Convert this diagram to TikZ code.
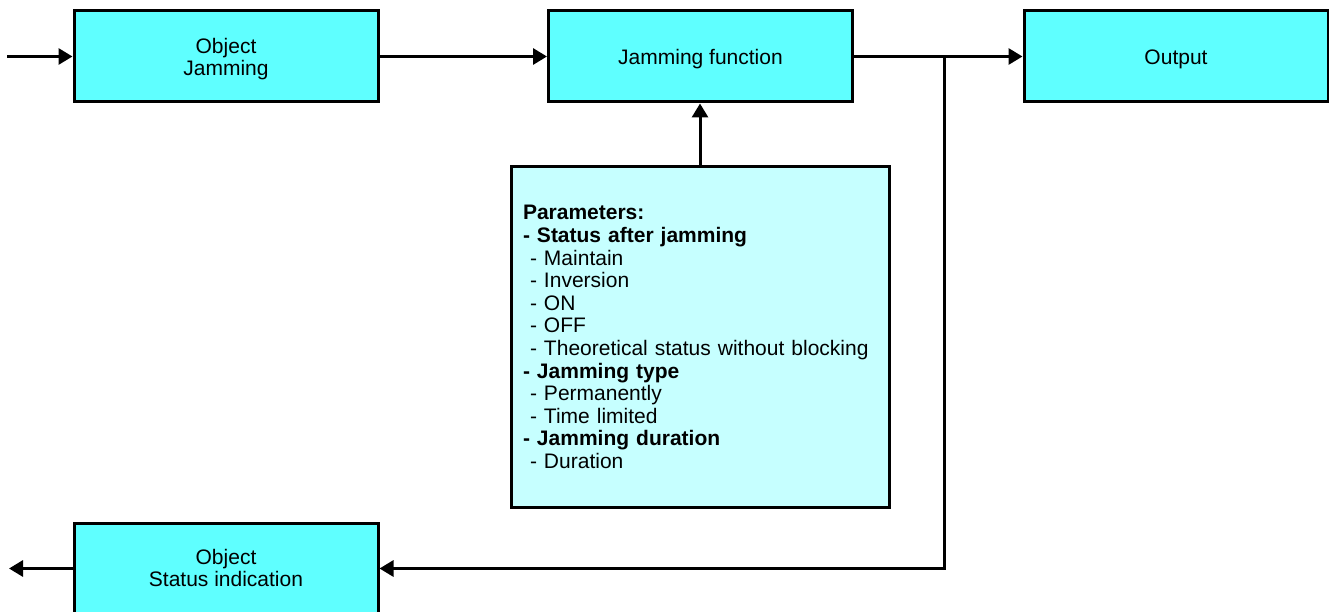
\documentclass[tikz,border=0pt]{standalone}
\usepackage{fontspec}
\setmainfont{Liberation Sans}
\usetikzlibrary{arrows.meta}
\definecolor{boxcyan}{HTML}{5FFFFF}
\definecolor{paramcyan}{HTML}{C6FFFF}
\newcommand{\lowertext}[2]{\raisebox{-#1}[\height][\depth]{#2}}
\begin{document}
\begin{tikzpicture}[x=1pt,y=-1pt,
  blockbox/.style={draw=black,line width=3pt,fill=boxcyan,minimum width=304pt,minimum height=91pt,align=center,inner sep=0pt,font=\fontsize{21}{22}\selectfont},
  parambox/.style={draw=black,line width=3pt,fill=paramcyan,minimum height=340pt,text width=354pt,inner xsep=12pt,inner ysep=0pt,align=left,font=\fontsize{21}{22.6}\selectfont},
  conn/.style={line width=3pt,-{Triangle[length=14pt,width=16pt]}},
  plain/.style={line width=3pt}]
\useasboundingbox (0,0) rectangle (1329,612);
\node[blockbox] (oj) at (226,56.5) {\lowertext{4pt}{\begin{tabular}{@{}c@{}}Object\\Jamming\end{tabular}}};
\node[blockbox] (jf) at (700.5,56.5) {\lowertext{3pt}{Jamming function}};
\node[blockbox] (out) at (1176,56.5) {\lowertext{3pt}{Output}};
\node[blockbox] (si) at (226,568.5) {\lowertext{3pt}{\begin{tabular}{@{}c@{}}Object\\Status indication\end{tabular}}};
\node[parambox] (params) at (700,337) {\textbf{Parameters:}\\
\textbf{- Status after jamming}\\
\hspace*{7pt}- Maintain\\
\hspace*{7pt}- Inversion\\
\hspace*{7pt}- ON\\
\hspace*{7pt}- OFF\\
\hspace*{7pt}- Theoretical status without blocking\\
\textbf{- Jamming type}\\
\hspace*{7pt}- Permanently\\
\hspace*{7pt}- Time limited\\
\textbf{- Jamming duration}\\
\hspace*{7pt}- Duration};
\coordinate (inp) at (7,56.5);
\coordinate (br) at (944,56.5);
\coordinate (outl) at (9,568.5);
\draw[conn] (inp) -- (oj.west);
\draw[conn] (oj.east) -- (jf.west);
\draw[conn] (jf.east) -- (out.west);
\draw[conn] (br) |- (si.east);
\draw[conn] (params.north) -- (params.north |- jf.south);
\draw[conn] (si.west) -- (outl);
\end{tikzpicture}
\end{document}
